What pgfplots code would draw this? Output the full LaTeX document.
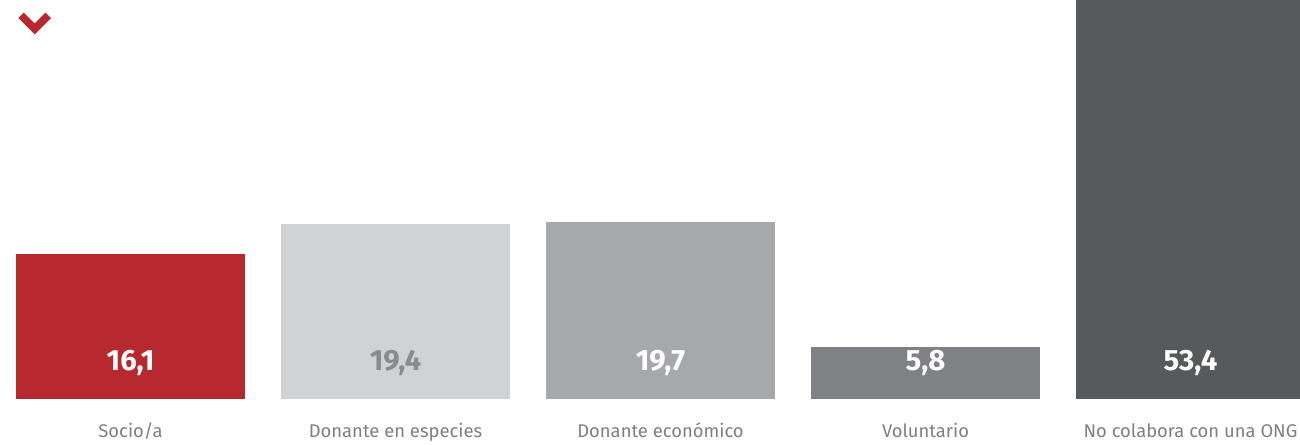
\documentclass[border=0pt]{standalone}
\usepackage{fontspec}
\IfFontExistsTF{FiraSans-Light.otf}
  {\setmainfont{FiraSans-Light.otf}[BoldFont=FiraSans-SemiBold.otf]}
  {\setmainfont{Fira Sans}}
\usepackage{pgfplots}
\pgfplotsset{compat=1.18}

\definecolor{socio}{HTML}{B7282F}
\definecolor{especies}{HTML}{D1D2D4}
\definecolor{economico}{HTML}{A7A8AB}
\definecolor{voluntario}{HTML}{808184}
\definecolor{nocolabora}{HTML}{58595B}
\definecolor{labelgray}{HTML}{7F7F7F}
\definecolor{valgray}{HTML}{8A8B8D}

% 1 px of the reference = 0.75pt
\begin{document}
\begin{tikzpicture}
\path[use as bounding box] (0,0) rectangle (975pt,333pt);
\clip (0,0) rectangle (975pt,333pt);

% chevron
\draw[socio, line width=5.8pt, line join=miter]
  (15.8pt,321.5pt) -- (26pt,311.3pt) -- (36.2pt,321.5pt);

\begin{axis}[
    at={(0pt,33.75pt)}, anchor=south west,
    scale only axis,
    width=975pt, height=299.25pt,
    xmin=-0.4925, xmax=4.4132,
    ymin=0, ymax=44.333,
    axis line style={draw=none},
    major tick length=0pt,
    ytick=\empty,
    xtick={0,1,2,3,4},
    xticklabels={Socio/a, Donante en especies, Donante económico, Voluntario, No colabora con una ONG},
    xticklabel style={anchor=base, yshift=-28.5pt, text=labelgray, font=\fontsize{13.8pt}{16pt}\selectfont},
    clip=true,
    ]
    \addplot[ybar, bar shift=0pt, bar width=171.75pt, fill=socio, draw=none] coordinates {(0,16.1)};
    \addplot[ybar, bar shift=0pt, bar width=171.75pt, fill=especies, draw=none] coordinates {(1,19.4)};
    \addplot[ybar, bar shift=0pt, bar width=171.75pt, fill=economico, draw=none] coordinates {(2,19.7)};
    \addplot[ybar, bar shift=0pt, bar width=171.75pt, fill=voluntario, draw=none] coordinates {(3,5.8)};
    \addplot[ybar, bar shift=0pt, bar width=171.75pt, fill=nocolabora, draw=none] coordinates {(4,53.4)};

    % value labels
    \addplot[draw=none, mark=none, nodes near coords, point meta=explicit symbolic,
      every node near coord/.style={anchor=base, text=white, font=\bfseries\fontsize{22pt}{24pt}\selectfont}]
      coordinates {(0,3.15)[16,1] (2,3.15)[19,7] (3,3.15)[5,8] (4,3.15)[53,4]};
    \addplot[draw=none, mark=none, nodes near coords, point meta=explicit symbolic,
      every node near coord/.style={anchor=base, text=valgray, font=\bfseries\fontsize{22pt}{24pt}\selectfont}]
      coordinates {(1,3.15)[19,4]};
\end{axis}
\end{tikzpicture}
\end{document}
